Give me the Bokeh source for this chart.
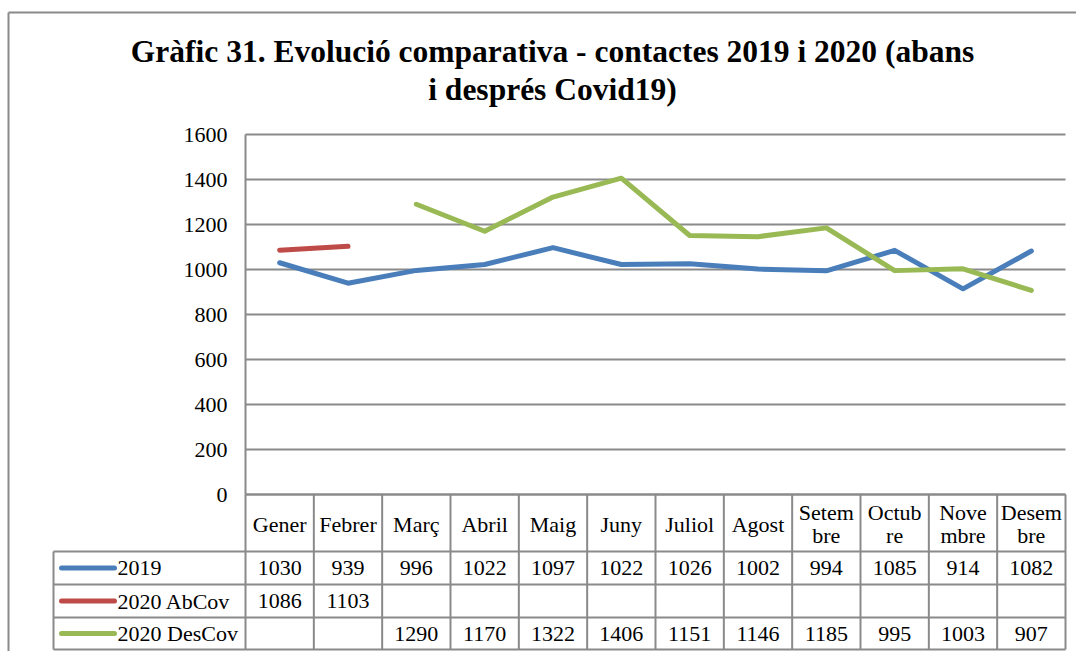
import math
from bokeh.plotting import figure
from bokeh.models import Range1d
from bokeh.core.properties import value
from bokeh.embed import file_html
from bokeh.resources import INLINE

# ---------------- data ----------------
months = ["Gener", "Febrer", "Març", "Abril", "Maig", "Juny", "Juliol",
          "Agost", "Setembre", "Octubre", "Novembre", "Desembre"]
month_labels = [["Gener"], ["Febrer"], ["Març"], ["Abril"], ["Maig"], ["Juny"],
                ["Juliol"], ["Agost"], ["Setem", "bre"], ["Octub", "re"],
                ["Nove", "mbre"], ["Desem", "bre"]]
nan = float("nan")
s2019 = [1030, 939, 996, 1022, 1097, 1022, 1026, 1002, 994, 1085, 914, 1082]
s2020_ab = [1086, 1103, nan, nan, nan, nan, nan, nan, nan, nan, nan, nan]
s2020_des = [nan, nan, 1290, 1170, 1322, 1406, 1151, 1146, 1185, 995, 1003, 907]
series_names = ["2019", "2020 AbCov", "2020 DesCov"]
series_values = [s2019, s2020_ab, s2020_des]
series_colors = ["#4A7EBB", "#BE4B48", "#98B954"]
y_ticks = [0, 200, 400, 600, 800, 1000, 1200, 1400, 1600]
title_lines = ["Gràfic 31. Evolució comparativa - contactes 2019 i 2020 (abans",
               "i després Covid19)"]

# ---------------- layout (picture pixels) ----------------
W, H = 1076, 651
PLOT_L = 245            # x of plot left
PLOT_R = 1065           # x of plot right
ZERO = 494              # y of value 0
TOP = 134               # y of value 1600
COLW = (PLOT_R - PLOT_L) / 12.0
PPU = (ZERO - TOP) / 1600.0

def X(px):
    return (px - PLOT_L) / COLW

def Y(py):
    return (ZERO - py) / PPU

x_start, x_end = X(0), X(W)
y_start, y_end = Y(H), Y(0)

FONT = value("Liberation Serif")
GRAY = "#8A8A8A"
FS = "22px"

p = figure(width=W, height=H, x_range=Range1d(x_start, x_end),
           y_range=Range1d(y_start, y_end), min_border=0,
           toolbar_location=None, output_backend="svg",
           x_axis_location=None, y_axis_location=None)
p.grid.visible = False
p.outline_line_color = None
p.background_fill_color = "white"

# outer chart border
p.segment(x0=[X(8), X(8)], y0=[Y(12), Y(12)], x1=[X(W), X(8)], y1=[Y(12), Y(H)],
          line_color=GRAY, line_width=2)

# title
for i, t in enumerate(title_lines):
    p.text(x=[X(552)], y=[Y(51 + 38 * i)], text=[t], text_font=FONT,
           text_font_style="bold", text_font_size="31.5px", text_align="center",
           text_baseline="middle", text_color="black")

# gridlines and y axis
p.segment(x0=[0] * len(y_ticks), x1=[12] * len(y_ticks), y0=y_ticks, y1=y_ticks,
          line_color=GRAY, line_width=2)
p.segment(x0=[0], x1=[0], y0=[0], y1=[max(y_ticks)], line_color=GRAY, line_width=2)
p.text(x=[X(227)] * len(y_ticks), y=y_ticks, text=[str(v) for v in y_ticks],
       text_font=FONT, text_font_size=FS, text_align="right",
       text_baseline="middle", text_color="black")

# series lines
xs = [i + 0.5 for i in range(len(months))]
for vals, col in zip(series_values, series_colors):
    p.line(x=xs, y=vals, line_color=col, line_width=5, line_cap="round",
           line_join="round")

# data table
ROWS = [494, 551, 584, 617, 649]
LEG_L = 53
p.segment(x0=[0], x1=[12], y0=[Y(ROWS[0])], y1=[Y(ROWS[0])], line_color=GRAY, line_width=2)
for r in ROWS[1:]:
    p.segment(x0=[X(LEG_L)], x1=[12], y0=[Y(r)], y1=[Y(r)], line_color=GRAY, line_width=2)
for k in range(1, 13):
    p.segment(x0=[k], x1=[k], y0=[Y(ROWS[0])], y1=[Y(ROWS[-1])], line_color=GRAY, line_width=2)
p.segment(x0=[0], x1=[0], y0=[Y(ROWS[0])], y1=[Y(ROWS[-1])], line_color=GRAY, line_width=2)
p.segment(x0=[X(LEG_L)], x1=[X(LEG_L)], y0=[Y(ROWS[1])], y1=[Y(ROWS[-1])], line_color=GRAY, line_width=2)

# header labels
hy = (ROWS[0] + ROWS[1]) / 2.0
for i, lab in enumerate(month_labels):
    if len(lab) == 1:
        p.text(x=[xs[i]], y=[Y(hy + 1)], text=lab, text_font=FONT, text_font_size=FS,
               text_align="center", text_baseline="middle", text_color="black")
    else:
        for j, part in enumerate(lab):
            p.text(x=[xs[i]], y=[Y(hy - 11 + 23 * j)], text=[part], text_font=FONT,
                   text_font_size=FS, text_align="center", text_baseline="middle",
                   text_color="black")

# rows
for r, (name, vals, col) in enumerate(zip(series_names, series_values, series_colors)):
    cy = (ROWS[r + 1] + ROWS[r + 2]) / 2.0
    p.line(x=[X(61), X(114)], y=[Y(cy), Y(cy)], line_color=col, line_width=5,
           line_cap="round")
    p.text(x=[X(117)], y=[Y(cy)], text=[name], text_font=FONT, text_font_size=FS,
           text_align="left", text_baseline="middle", text_color="black")
    cx = [xs[i] for i, v in enumerate(vals) if not math.isnan(v)]
    tv = [str(int(v)) for v in vals if not math.isnan(v)]
    p.text(x=cx, y=[Y(cy)] * len(cx), text=tv, text_font=FONT, text_font_size=FS,
           text_align="center", text_baseline="middle", text_color="black")

open("out.html", "w").write(file_html(p, INLINE))
